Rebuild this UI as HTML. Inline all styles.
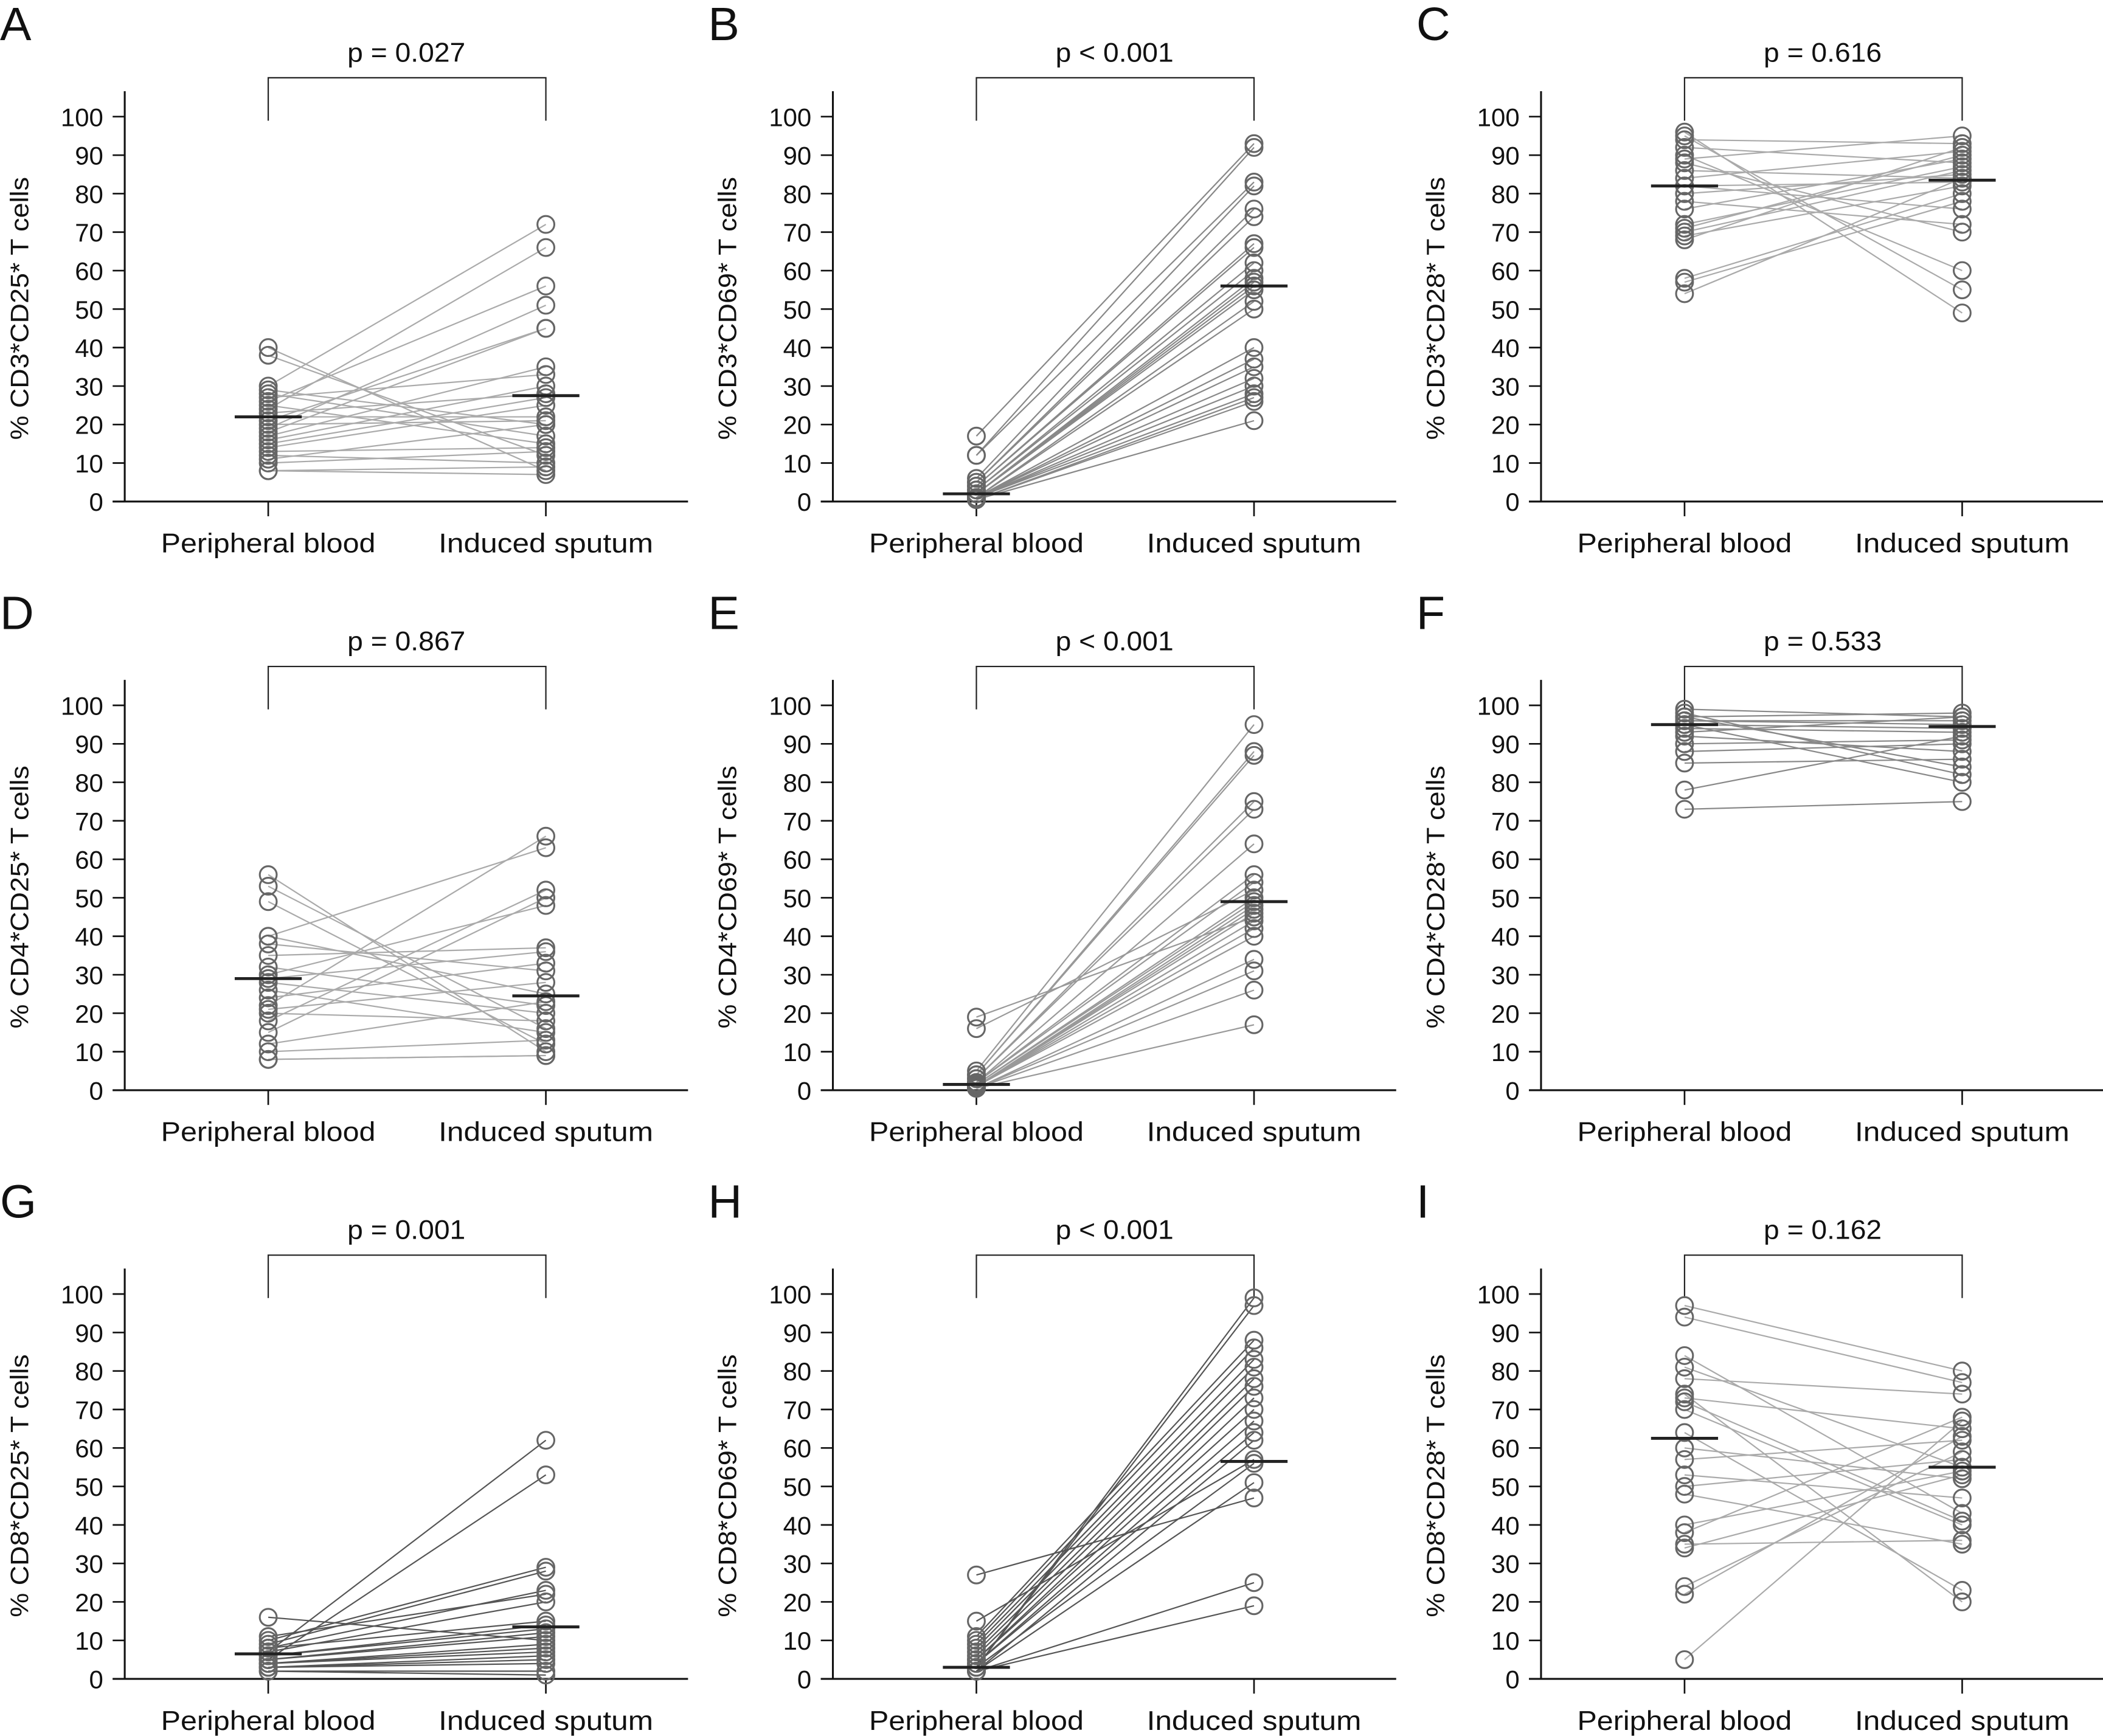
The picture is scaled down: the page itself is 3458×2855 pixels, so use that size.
<!DOCTYPE html>
<html><head><meta charset="utf-8">
<style>
html,body{margin:0;padding:0;background:#fff;}
svg{display:block;}
text{font-family:"Liberation Sans",sans-serif;fill:#111;}
</style></head>
<body>
<svg id="fig" width="3458" height="2855" viewBox="0 0 1568 1294.6" preserveAspectRatio="none" xmlns="http://www.w3.org/2000/svg">
<rect width="1568" height="1294.6" fill="#fff"/>
</svg>
<script>
const yTicks=[0,10,20,30,40,50,60,70,80,90,100];
const categories=["Peripheral blood","Induced sputum"];
const panelLetters=["A","B","C","D","E","F","G","H","I"];
const pValues=["p = 0.027","p < 0.001","p = 0.616","p = 0.867","p < 0.001","p = 0.533","p = 0.001","p < 0.001","p = 0.162"];
const yTitles=["% CD3*CD25* T cells","% CD3*CD69* T cells","% CD3*CD28* T cells","% CD4*CD25* T cells","% CD4*CD69* T cells","% CD4*CD28* T cells","% CD8*CD25* T cells","% CD8*CD69* T cells","% CD8*CD28* T cells"];
const aPB=[40,38,30,29,28,27,26,25,24,23,22,21,20,19,18,17,16,15,14,13,12,11,10,8,8];
const aIS=[8,12,72,20,17,33,56,15,66,28,22,45,21,51,45,35,30,27,25,14,10,20,13,9,7];
const bPB=[17,12,12,6,5,5,4,4,3,3,2,2,2,2,1,1,1,1,1,1,1,1,0.5,0.5,0.5];
const bIS=[93,92,83,82,76,74,67,66,62,60,58,57,56,55,52,50,40,37,35,32,30,28,27,26,21];
const cPB=[96,95,94,92,90,89,88,86,84,82,82,80,78,76,72,71,70,69,68,58,57,54];
const cIS=[49,55,93,88,60,95,70,84,91,83,76,85,72,89,87,90,86,82,92,80,78,84];
const dPB=[56,53,49,40,40,38,35,32,30,29,28,26,24,22,21,20,18,15,12,10,8,8];
const dIS=[10,16,12,25,63,31,37,22,48,36,20,15,33,66,28,18,52,50,23,13,9,9];
const ePB=[19,16,5,4,4,3,3,2,2,2,1.5,1.5,1,1,1,1,1,1,0.5,0.5,0.5,0.5];
const eIS=[45,52,95,88,87,75,73,64,56,54,50,49,48,47,46,44,42,40,34,31,26,17];
const fPB=[99,98,97,97,96,96,95,95,94,93,92,90,88,85,78,73];
const fIS=[97,82,98,84,96,95,80,94,93,97,88,91,90,86,92,75];
const gPB=[16,11,10,9,8,8,7,7,6,6,5,5,5,4,4,4,3,3,3,2,2];
const gIS=[10,22,29,28,23,15,20,62,14,13,12,53,11,9,8,7,6,5,4,2,1];
const hPB=[27,15,11,10,9,8,7,6,5,5,4,4,3,3,3,2,2,2,2];
const hIS=[47,57,88,86,83,81,78,76,73,70,67,64,99,97,56,51,25,19,62];
const iPB=[97,94,84,81,78,74,73,72,70,64,60,57,53,50,48,40,38,35,34,24,22,5];
const iIS=[80,77,43,55,74,20,65,41,40,23,52,62,47,57,35,54,68,36,53,59,63,67];
const medPB=[22,2,82,29,1.5,95,6.5,3,62.5];
const medIS=[27.5,56,83.5,24.5,49,94.5,13.5,56.5,55];
const pbSets=[aPB,bPB,cPB,dPB,ePB,fPB,gPB,hPB,iPB];
const isSets=[aIS,bIS,cIS,dIS,eIS,fIS,gIS,hIS,iIS];
const lineColors=["#aaa","#888","#aaa","#aaa","#999","#888","#555","#555","#aaa"];

const NS="http://www.w3.org/2000/svg";
const svg=document.getElementById('fig');
function mk(tag,attrs,parent){const e=document.createElementNS(NS,tag);for(const k in attrs)e.setAttribute(k,attrs[k]);(parent||svg).appendChild(e);return e;}

for(let p=0;p<9;p++){
  const col=p%3,row=Math.floor(p/3);
  const ox=col*528, oy=row*439;
  const g=mk('g',{});
  
  
  const axX=93+ox, y0=374+oy, y100=87+oy;
  const yS=v=>y0-(y0-y100)*v/100;
  const xS=i=>(i===0?200:407)+ox;
  // letter
  const L=mk('text',{x:ox+0,y:oy+30,'font-size':35},g);L.textContent=panelLetters[p];
  
  
  // p text
  const pt=mk('text',{x:ox+303,y:oy+46,'font-size':20,'text-anchor':'middle',textLength:88,lengthAdjust:'spacingAndGlyphs'},g);pt.textContent=pValues[p];
  
  
  const br=mk('path',{d:`M${xS(0)},${oy+90}V${oy+58}H${xS(1)}V${oy+90}`,fill:'none',stroke:'#222','stroke-width':1},g);
  
  
  // axes
  const ya=mk('line',{x1:axX,y1:oy+68,x2:axX,y2:y0,stroke:'#111','stroke-width':1.4},g);
  
  
  const xa=mk('line',{x1:ox+84,y1:y0,x2:ox+513,y2:y0,stroke:'#111','stroke-width':1.4},g);
  
  
  yTicks.forEach(t=>{
    mk('line',{x1:ox+84,x2:axX,y1:yS(t),y2:yS(t),stroke:'#111','stroke-width':1.2},g);
    const tl=mk('text',{x:ox+77,y:yS(t)+7,'font-size':19,'text-anchor':'end'},g);tl.textContent=t;
    
    
  });
  categories.forEach((c,i)=>{
    mk('line',{x1:xS(i),x2:xS(i),y1:y0,y2:y0+11,stroke:'#111','stroke-width':1.2},g);
    const cl=mk('text',{x:xS(i),y:oy+412,'font-size':20,'text-anchor':'middle',textLength:160,lengthAdjust:'spacingAndGlyphs'},g);cl.textContent=c;
    
    
  });
  const yt=mk('text',{x:0,y:0,'font-size':19,'text-anchor':'middle',transform:`translate(${ox+21},${oy+230}) rotate(-90)`,textLength:196,lengthAdjust:'spacingAndGlyphs'},g);
  yt.textContent=yTitles[p];
  
  
  const pb=pbSets[p], is=isSets[p];
  const n=Math.min(pb.length,is.length);
  for(let k=0;k<n;k++){
    const ln=mk('line',{x1:xS(0),y1:yS(pb[k]),x2:xS(1),y2:yS(is[k]),stroke:lineColors[p],'stroke-width':1},g);
    
    
  }
  [pb,is].forEach((arr,i)=>arr.forEach(v=>{
    const c=mk('circle',{cx:xS(i),cy:yS(v),r:6.3,fill:'none',stroke:'#666','stroke-width':1.4},g);
    
    
  }));
  [medPB[p],medIS[p]].forEach((m,i)=>{
    const ml=mk('line',{x1:xS(i)-25,x2:xS(i)+25,y1:yS(m),y2:yS(m),stroke:'#222','stroke-width':2.2},g);
    
    
  });
}
</script>
</body></html>
